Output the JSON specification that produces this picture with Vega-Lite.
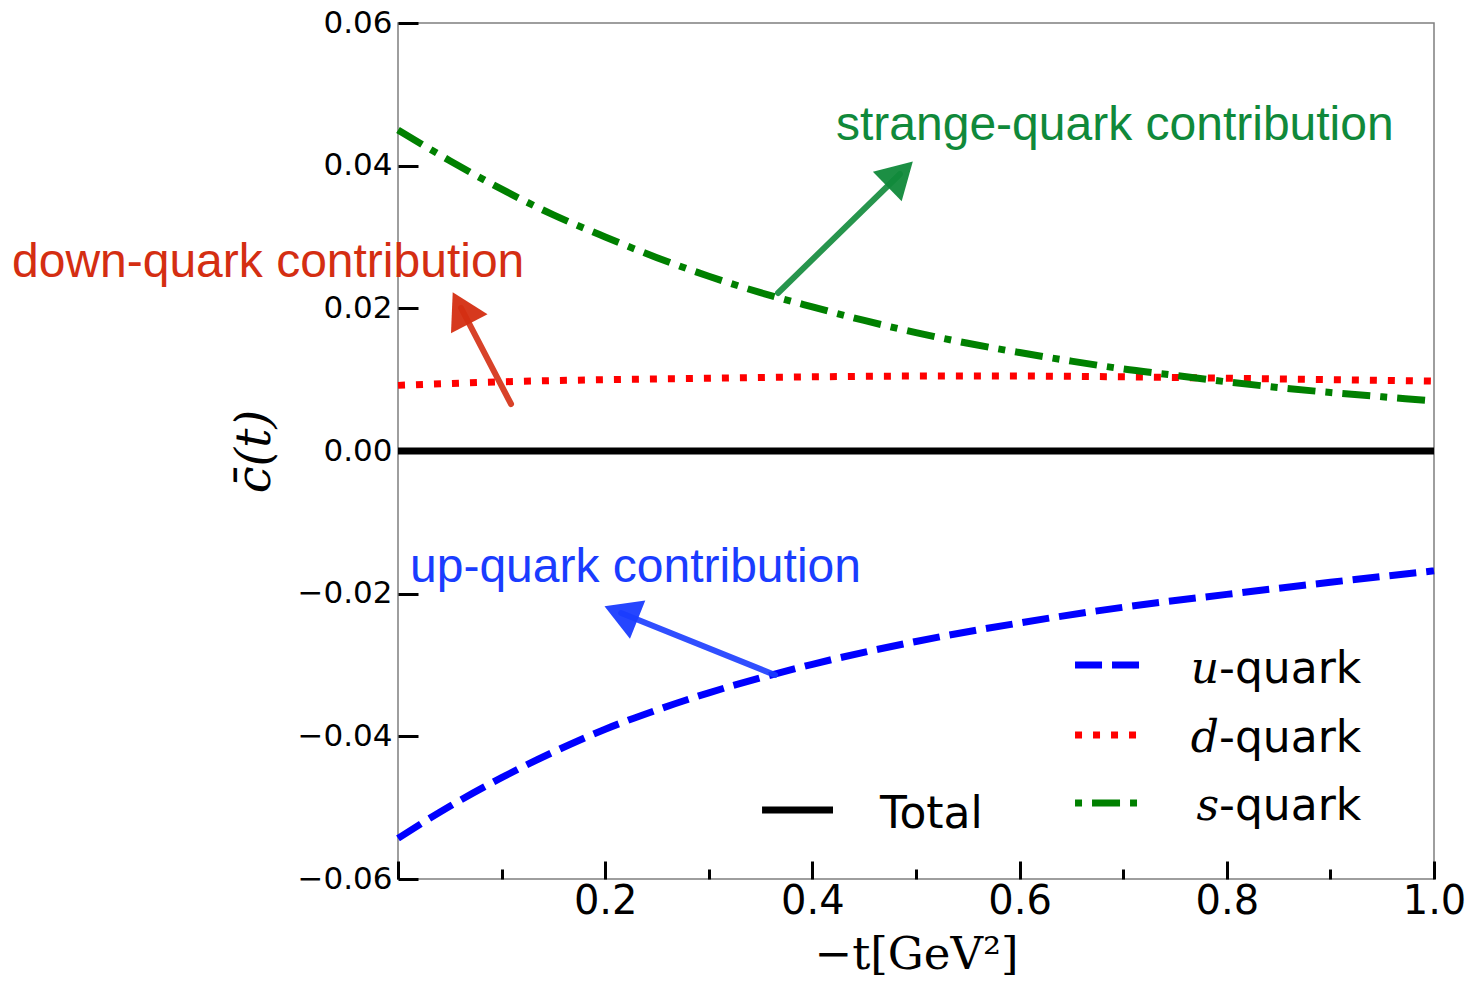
{
  "$schema": "https://vega.github.io/schema/vega-lite/v6.json",
  "width": 1036,
  "height": 856,
  "autosize": {"type": "none"},
  "padding": {"left": 398, "top": 23, "right": 36, "bottom": 105},
  "background": "white",
  "config": {
    "view": {"stroke": "#7f7f7f", "strokeWidth": 1.5},
    "axis": {"grid": false, "domain": false}
  },
  "datasets": {
    "curves": [
      {"t": 0, "c": 0, "series": "Total"},
      {"t": 1, "c": 0, "series": "Total"},
      {"t": 0.0, "c": -0.0543, "series": "u"},
      {"t": 0.05, "c": -0.0498, "series": "u"},
      {"t": 0.1, "c": -0.0458, "series": "u"},
      {"t": 0.15, "c": -0.0422, "series": "u"},
      {"t": 0.2, "c": -0.0390, "series": "u"},
      {"t": 0.25, "c": -0.0363, "series": "u"},
      {"t": 0.3, "c": -0.0339, "series": "u"},
      {"t": 0.35, "c": -0.0318, "series": "u"},
      {"t": 0.4, "c": -0.0299, "series": "u"},
      {"t": 0.5, "c": -0.0267, "series": "u"},
      {"t": 0.6, "c": -0.0241, "series": "u"},
      {"t": 0.7, "c": -0.0219, "series": "u"},
      {"t": 0.8, "c": -0.0201, "series": "u"},
      {"t": 0.9, "c": -0.0184, "series": "u"},
      {"t": 1.0, "c": -0.0168, "series": "u"},
      {"t": 0.0, "c": 0.0092, "series": "d"},
      {"t": 0.1, "c": 0.0097, "series": "d"},
      {"t": 0.2, "c": 0.0100, "series": "d"},
      {"t": 0.3, "c": 0.0102, "series": "d"},
      {"t": 0.4, "c": 0.0104, "series": "d"},
      {"t": 0.5, "c": 0.0105, "series": "d"},
      {"t": 0.6, "c": 0.0105, "series": "d"},
      {"t": 0.7, "c": 0.0104, "series": "d"},
      {"t": 0.8, "c": 0.0102, "series": "d"},
      {"t": 0.9, "c": 0.0100, "series": "d"},
      {"t": 1.0, "c": 0.0098, "series": "d"},
      {"t": 0.0, "c": 0.0450, "series": "s"},
      {"t": 0.05, "c": 0.0407, "series": "s"},
      {"t": 0.1, "c": 0.0367, "series": "s"},
      {"t": 0.15, "c": 0.0331, "series": "s"},
      {"t": 0.2, "c": 0.0300, "series": "s"},
      {"t": 0.25, "c": 0.0271, "series": "s"},
      {"t": 0.3, "c": 0.0245, "series": "s"},
      {"t": 0.35, "c": 0.0222, "series": "s"},
      {"t": 0.4, "c": 0.0202, "series": "s"},
      {"t": 0.45, "c": 0.0183, "series": "s"},
      {"t": 0.5, "c": 0.0166, "series": "s"},
      {"t": 0.55, "c": 0.0151, "series": "s"},
      {"t": 0.6, "c": 0.0138, "series": "s"},
      {"t": 0.65, "c": 0.0126, "series": "s"},
      {"t": 0.7, "c": 0.0115, "series": "s"},
      {"t": 0.75, "c": 0.0106, "series": "s"},
      {"t": 0.8, "c": 0.0097, "series": "s"},
      {"t": 0.85, "c": 0.0089, "series": "s"},
      {"t": 0.9, "c": 0.0082, "series": "s"},
      {"t": 0.95, "c": 0.0076, "series": "s"},
      {"t": 1.0, "c": 0.0070, "series": "s"}
    ],
    "legend": [
      {"series": "u", "t0": 0.6535, "t1": 0.7181, "c": -0.0300, "tx": 0.7925, "cy": -0.03252, "letter": "u", "rest": "-quark"},
      {"series": "d", "t0": 0.6535, "t1": 0.7181, "c": -0.0398, "tx": 0.7925, "cy": -0.0422, "letter": "d", "rest": "-quark"},
      {"series": "s", "t0": 0.6535, "t1": 0.7181, "c": -0.04935, "tx": 0.7925, "cy": -0.05173, "letter": "s", "rest": "-quark"},
      {"series": "Total", "t0": 0.3514, "t1": 0.4199, "c": -0.05033, "tx": 0.4653, "cy": -0.05285, "letter": "", "rest": "Total"}
    ],
    "notes": [
      {"series": "strange", "t": 0.4228, "c": 0.0436, "label": "strange-quark contribution"},
      {"series": "down", "t": -0.3726, "c": 0.0244, "label": "down-quark contribution"},
      {"series": "up", "t": 0.0116, "c": -0.01837, "label": "up-quark contribution"}
    ],
    "arrows": [
      {"series": "strange", "t0": 0.3668, "c0": 0.02215, "t1": 0.4846, "c1": 0.03883},
      {"series": "down", "t0": 0.1091, "c0": 0.00659, "t1": 0.0608, "c1": 0.02005},
      {"series": "up", "t0": 0.3639, "c0": -0.0314, "t1": 0.2153, "c1": -0.02271}
    ]
  },
  "layer": [
    {
      "data": {"name": "curves"},
      "mark": {"type": "line", "strokeWidth": 7, "interpolate": "monotone"},
      "encoding": {
        "x": {
          "field": "t", "type": "quantitative",
          "scale": {"domain": [0, 1], "nice": false, "zero": false},
          "axis": {
            "values": [0, 0.1, 0.2, 0.3, 0.4, 0.5, 0.6, 0.7, 0.8, 0.9, 1.0],
            "labelExpr": "(round(datum.value*10) % 2 == 0 && datum.value > 0.05) ? format(datum.value, '.1f') : ''",
            "tickSize": {"condition": {"test": "round(datum.value*10) % 2 == 1", "value": -10}, "value": -18},
            "tickWidth": 3, "tickColor": "black",
            "labelPadding": 20, "labelFont": "DejaVu Sans", "labelFontSize": 40, "labelColor": "black",
            "labelFlush": false, "labelOverlap": false, "labelBound": false,
            "title": "−t[GeV²]", "titleFont": "DejaVu Serif", "titleFontSize": 45,
            "titleFontWeight": "normal", "titleColor": "black", "titlePadding": 3
          }
        },
        "y": {
          "field": "c", "type": "quantitative",
          "scale": {"domain": [-0.06, 0.06], "nice": false, "zero": false},
          "axis": {
            "values": [-0.06, -0.04, -0.02, 0, 0.02, 0.04, 0.06],
            "format": ".2f",
            "tickSize": -20, "tickWidth": 3, "tickColor": "black",
            "labelPadding": 26, "labelFont": "DejaVu Sans", "labelFontSize": 31, "labelColor": "black",
            "labelFlush": false, "labelOverlap": false,
            "title": "c̄(t)", "titleFont": "DejaVu Serif", "titleFontStyle": "italic", "titleFontSize": 48,
            "titleFontWeight": "normal", "titleColor": "black", "titlePadding": 18
          }
        },
        "color": {
          "field": "series", "type": "nominal", "legend": null,
          "scale": {
            "domain": ["Total", "u", "d", "s", "up", "down", "strange"],
            "range": ["#000000", "#0000ff", "#ff0000", "#008000", "#1a3cff", "#d42e12", "#10893a"]
          }
        },
        "strokeDash": {
          "field": "series", "type": "nominal", "legend": null,
          "scale": {"domain": ["Total", "u", "d", "s"], "range": [[1, 0], [27, 10], [7, 11], [28, 10, 7, 10]]}
        }
      }
    },
    {
      "data": {"name": "legend"},
      "transform": [{"filter": "datum.series != 's'"}],
      "mark": {"type": "rule", "strokeWidth": 7},
      "encoding": {
        "x": {"field": "t0", "type": "quantitative", "scale": {"domain": [0, 1], "nice": false, "zero": false}},
        "x2": {"field": "t1"},
        "y": {"field": "c", "type": "quantitative", "scale": {"domain": [-0.06, 0.06], "nice": false, "zero": false}},
        "color": {"field": "series", "type": "nominal", "legend": null},
        "strokeDash": {"field": "series", "type": "nominal", "legend": null}
      }
    },
    {
      "data": {"name": "legend"},
      "transform": [{"filter": "datum.series == 's'"}],
      "mark": {"type": "rule", "strokeWidth": 7, "strokeDashOffset": 38},
      "encoding": {
        "x": {"field": "t0", "type": "quantitative", "scale": {"domain": [0, 1], "nice": false, "zero": false}},
        "x2": {"field": "t1"},
        "y": {"field": "c", "type": "quantitative", "scale": {"domain": [-0.06, 0.06], "nice": false, "zero": false}},
        "color": {"field": "series", "type": "nominal", "legend": null},
        "strokeDash": {"field": "series", "type": "nominal", "legend": null}
      }
    },
    {
      "data": {"name": "legend"},
      "mark": {"type": "text", "align": "right", "baseline": "alphabetic", "font": "DejaVu Serif", "fontStyle": "italic", "fontSize": 44, "color": "black"},
      "encoding": {
        "x": {"field": "tx", "type": "quantitative", "scale": {"domain": [0, 1], "nice": false, "zero": false}},
        "y": {"field": "cy", "type": "quantitative", "scale": {"domain": [-0.06, 0.06], "nice": false, "zero": false}},
        "text": {"field": "letter"}
      }
    },
    {
      "data": {"name": "legend"},
      "mark": {"type": "text", "align": "left", "baseline": "alphabetic", "font": "DejaVu Sans", "fontSize": 44, "color": "black"},
      "encoding": {
        "x": {"field": "tx", "type": "quantitative", "scale": {"domain": [0, 1], "nice": false, "zero": false}},
        "y": {"field": "cy", "type": "quantitative", "scale": {"domain": [-0.06, 0.06], "nice": false, "zero": false}},
        "text": {"field": "rest"}
      }
    },
    {
      "data": {"name": "notes"},
      "mark": {"type": "text", "align": "left", "baseline": "alphabetic", "font": "Liberation Sans", "fontSize": 48},
      "encoding": {
        "x": {"field": "t", "type": "quantitative", "scale": {"domain": [0, 1], "nice": false, "zero": false}},
        "y": {"field": "c", "type": "quantitative", "scale": {"domain": [-0.06, 0.06], "nice": false, "zero": false}},
        "text": {"field": "label"},
        "color": {"field": "series", "type": "nominal", "legend": null}
      }
    },
    {
      "data": {"name": "arrows"},
      "mark": {"type": "rule", "strokeWidth": 6, "strokeCap": "round", "opacity": 0.9},
      "encoding": {
        "x": {"field": "t0", "type": "quantitative", "scale": {"domain": [0, 1], "nice": false, "zero": false}},
        "x2": {"field": "t1"},
        "y": {"field": "c0", "type": "quantitative", "scale": {"domain": [-0.06, 0.06], "nice": false, "zero": false}},
        "y2": {"field": "c1"},
        "color": {"field": "series", "type": "nominal", "legend": null}
      }
    },
    {
      "data": {"name": "arrows"},
      "transform": [{"filter": "datum.series == 'strange'"}],
      "mark": {"type": "point", "shape": "triangle-up", "filled": true, "size": 1700, "angle": 45.7, "opacity": 0.95, "strokeWidth": 0},
      "encoding": {
        "x": {"field": "t1", "type": "quantitative", "scale": {"domain": [0, 1], "nice": false, "zero": false}},
        "y": {"field": "c1", "type": "quantitative", "scale": {"domain": [-0.06, 0.06], "nice": false, "zero": false}},
        "color": {"field": "series", "type": "nominal", "legend": null}
      }
    },
    {
      "data": {"name": "arrows"},
      "transform": [{"filter": "datum.series == 'down'"}],
      "mark": {"type": "point", "shape": "triangle-up", "filled": true, "size": 1700, "angle": 332.4, "opacity": 0.95, "strokeWidth": 0},
      "encoding": {
        "x": {"field": "t1", "type": "quantitative", "scale": {"domain": [0, 1], "nice": false, "zero": false}},
        "y": {"field": "c1", "type": "quantitative", "scale": {"domain": [-0.06, 0.06], "nice": false, "zero": false}},
        "color": {"field": "series", "type": "nominal", "legend": null}
      }
    },
    {
      "data": {"name": "arrows"},
      "transform": [{"filter": "datum.series == 'up'"}],
      "mark": {"type": "point", "shape": "triangle-up", "filled": true, "size": 1700, "angle": 291.8, "opacity": 0.95, "strokeWidth": 0},
      "encoding": {
        "x": {"field": "t1", "type": "quantitative", "scale": {"domain": [0, 1], "nice": false, "zero": false}},
        "y": {"field": "c1", "type": "quantitative", "scale": {"domain": [-0.06, 0.06], "nice": false, "zero": false}},
        "color": {"field": "series", "type": "nominal", "legend": null}
      }
    }
  ]
}
